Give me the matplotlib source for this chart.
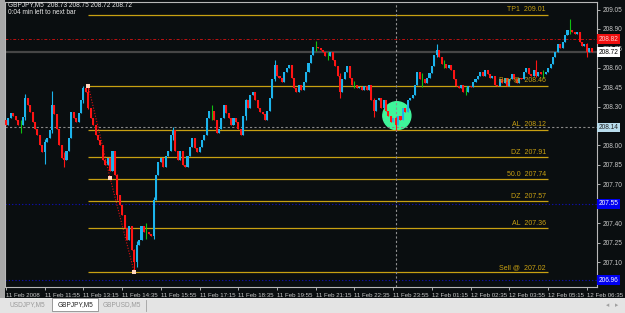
import matplotlib
matplotlib.use("Agg")
import matplotlib.pyplot as plt
from matplotlib.patches import Rectangle, Ellipse
from matplotlib.transforms import blended_transform_factory
import numpy as np

plt.rcParams["font.family"] = ["Liberation Sans", "DejaVu Sans"]

# GBPJPY M5 closes, one per bar, from 11 Feb 2008 10:35
closes = [
    208.16, 208.21, 208.25, 208.23, 208.20, 208.16, 208.16, 208.22, 208.37, 208.31,
    208.26, 208.18, 208.13, 208.08, 208.00, 207.95, 208.03, 208.06, 208.12, 208.31,
    208.24, 208.13, 208.00, 207.90, 207.89, 207.96, 208.06, 208.26, 208.21, 208.18,
    208.25, 208.35, 208.44, 208.41, 208.29, 208.21, 208.16, 208.08, 208.04, 208.00,
    207.89, 207.85, 207.90, 207.80, 207.96, 207.77, 207.62, 207.54, 207.46, 207.36,
    207.27, 207.38, 207.19, 207.10, 207.23, 207.27, 207.38, 207.33, 207.33, 207.32,
    207.30, 207.58, 207.77, 207.87, 207.90, 207.83, 207.92, 207.96, 208.08, 208.12,
    207.96, 207.89, 207.96, 207.85, 207.83, 207.92, 207.99, 208.06, 207.98, 207.95,
    207.99, 208.04, 208.08, 208.21, 208.27, 208.27, 208.20, 208.10, 208.13, 208.21,
    208.31, 208.25, 208.21, 208.16, 208.21, 208.18, 208.13, 208.08, 208.23, 208.35,
    208.29, 208.39, 208.41, 208.35, 208.29, 208.26, 208.24, 208.20, 208.27, 208.37,
    208.51, 208.62, 208.54, 208.52, 208.49, 208.57, 208.60, 208.62, 208.52, 208.44,
    208.41, 208.47, 208.43, 208.49, 208.57, 208.64, 208.70, 208.76, 208.76, 208.75,
    208.74, 208.72, 208.69, 208.69, 208.72, 208.66, 208.61, 208.54, 208.41, 208.51,
    208.57, 208.61, 208.52, 208.47, 208.47, 208.44, 208.45, 208.43, 208.46, 208.43,
    208.47, 208.35, 208.27, 208.35, 208.37, 208.29, 208.35, 208.27, 208.23, 208.18,
    208.21, 208.16, 208.23, 208.20, 208.29, 208.26, 208.35, 208.37, 208.39, 208.47,
    208.57, 208.51, 208.51, 208.48, 208.52, 208.56, 208.61, 208.70, 208.74, 208.68,
    208.63, 208.63, 208.60, 208.62, 208.58, 208.51, 208.46, 208.44, 208.47, 208.41,
    208.41, 208.46, 208.45, 208.49, 208.51, 208.54, 208.57, 208.54, 208.58, 208.55,
    208.52, 208.54, 208.47, 208.46, 208.51, 208.48, 208.52, 208.46, 208.51, 208.55,
    208.51, 208.48, 208.52, 208.51, 208.57, 208.60, 208.55, 208.54, 208.58, 208.54,
    208.57, 208.55, 208.55, 208.57, 208.60, 208.63, 208.68, 208.72, 208.78, 208.75,
    208.80, 208.85, 208.89, 208.89, 208.88, 208.86, 208.88, 208.80, 208.77, 208.78,
    208.72, 208.75, 208.72,
]
first_open = 208.20

# bars with a visible shadow
wick_bars = [6, 8, 16, 19, 24, 32, 34, 46, 53, 54, 58, 61, 69, 85, 99, 111, 128, 133,
             138, 144, 152, 161, 172, 178, 181, 190, 219, 222, 233, 240]
wick_highs = [208.20, 208.40, 208.05, 208.42, 207.95, 208.46, 208.46, 207.78, 207.20, 207.26,
              207.40, 207.60, 208.14, 208.31, 208.36, 208.66, 208.81, 208.72, 208.56, 208.50,
              208.37, 208.22, 208.56, 208.78, 208.66, 208.45, 208.66, 208.58, 208.98, 208.79]
wick_lows = [208.10, 208.20, 207.86, 208.10, 207.83, 208.33, 208.28, 207.58, 207.02, 207.06,
             207.28, 207.28, 208.04, 208.20, 208.20, 208.50, 208.73, 208.66, 208.37, 208.44,
             208.22, 208.12, 208.45, 208.68, 208.60, 208.39, 208.53, 208.52, 208.86, 208.68]

levels = [209.01, 208.46, 208.12, 207.91, 207.74, 207.57, 207.36, 207.02]
level_labels = ["TP1  209.01", "Buy @  208.46", "AL  208.12", "DZ  207.91",
                "50.0  207.74", "DZ  207.57", "AL  207.36", "Sell @  207.02"]
level_start, level_end = 34, 224

zz_bars = [34, 43, 53]
zz_prices = [208.46, 207.75, 207.02]

ask, bid = 208.82, 208.72
grey_line = 208.14
blue_lines = [207.55, 206.96]
vline_bar = 161
circle_bar, circle_price = 161.5, 208.23

price_ticks = [209.05, 208.90, 208.75, 208.60, 208.45, 208.30, 208.15,
               208.00, 207.85, 207.70, 207.55, 207.40, 207.25, 207.10]
# labels hidden under the price boxes are left blank
price_labels = ["209.05", "208.90", "208.75", "208.60", "208.45", "208.30", "",
                "208.00", "207.85", "207.70", "", "207.40", "207.25", "207.10"]
time_bars = list(range(0, 241, 16))
time_labels = ["11 Feb 2008", "11 Feb 11:55", "11 Feb 13:15", "11 Feb 14:35",
               "11 Feb 15:55", "11 Feb 17:15", "11 Feb 18:35", "11 Feb 19:55",
               "11 Feb 21:15", "11 Feb 22:35", "11 Feb 23:55", "12 Feb 01:15",
               "12 Feb 02:35", "12 Feb 03:55", "12 Feb 05:15", "12 Feb 06:35"]

BG = "#0a0e10"
GOLD = "#c8a012"
TXT = "#c8c8c8"
FS = 4.7

W, H = 625, 313
fig = plt.figure(figsize=(W / 100, H / 100), dpi=100, facecolor=BG)
ax = fig.add_axes([5 / W, (H - 287) / H, 592 / W, 285 / H], facecolor=BG)

closes = np.array(closes)
opens = np.concatenate([[first_open], closes[:-1]])
x = np.arange(len(closes))
highs = np.maximum(opens, closes)
lows = np.minimum(opens, closes)
highs[wick_bars] = wick_highs
lows[wick_bars] = wick_lows

up = closes > opens + 0.004
down = closes < opens - 0.004
doji = ~(up | down)

# green highlight behind the candles
ax.add_patch(Ellipse((circle_bar, circle_price), 11.6, 0.216, color="#3ff59a", zorder=1))

for mask, col in [(up, "#1cb4ec"), (down, "#ff1414"), (doji, "#10c010")]:
    ax.vlines(x[mask], lows[mask], highs[mask], color=col, lw=0.8, zorder=3)
    ax.bar(x[mask], np.abs(closes[mask] - opens[mask]), 0.85,
           bottom=np.minimum(opens, closes)[mask], color=col, lw=0, zorder=3)

# fibo / trade levels
for lv, lab in zip(levels, level_labels):
    ax.hlines(lv, level_start, level_end, color=GOLD, lw=0.9, zorder=2)
    ax.text(level_end - 1, lv + 0.012, lab, color=GOLD, fontsize=FS + 0.3,
            ha="right", va="bottom", zorder=4)

ax.plot(zz_bars, zz_prices, color="#e01010", lw=0.8, ls=(0, (1, 1.5)), zorder=4)
ax.scatter(zz_bars, zz_prices, s=5, marker="s", color="#ffd8c0", zorder=5, lw=0)

ax.axhline(ask, color="#c01010", lw=0.7, ls=(0, (3, 2, 1, 2)), zorder=2)
ax.axhline(bid, color="#464646", lw=1.6, zorder=2)
ax.axhline(grey_line, color="#8a8a8a", lw=0.8, ls=(0, (2, 2)), zorder=2)
for b in blue_lines:
    ax.axhline(b, color="#1010c0", lw=0.8, ls=(0, (1, 2)), zorder=2)
ax.axvline(vline_bar, color="#909090", lw=0.8, ls=(0, (2, 2)), zorder=2)

ax.set_xlim(-0.41, 244.2)
ax.set_ylim(209.05 - (287 - 9.5) / 129.5, 209.05 + 7.5 / 129.5)

ax.yaxis.tick_right()
ax.set_yticks(price_ticks)
ax.set_yticklabels(price_labels)
ax.set_xticks(time_bars)
ax.set_xticklabels(time_labels, ha="left")
ax.tick_params(colors=TXT, labelsize=FS, length=2, width=0.6, pad=2)
ax.tick_params(axis="x", labelsize=4.4, pad=2)
for s in ax.spines.values():
    s.set_color("#b8b8b8")
    s.set_linewidth(0.8)

tr = blended_transform_factory(ax.transAxes, ax.transData)
for val, fc, tc in [(ask, "#f01010", "#ffd0d0"), (bid, "#ffffff", "#000000"),
                    (grey_line, "#b8dcec", "#202020"),
                    (blue_lines[0], "#0000f0", "#ffffff"), (blue_lines[1], "#0000f0", "#ffffff")]:
    ax.text(1.003, val, f"{val:.2f}", transform=tr, fontsize=FS, color=tc,
            va="center", ha="left", zorder=6, clip_on=False,
            bbox=dict(boxstyle="square,pad=0.2", fc=fc, ec="none"))

# header lines
fig.text(8 / W, 1 - 5 / H, "GBPJPY,M5  208.73 208.75 208.72 208.72",
         color="#e8e8e8", fontsize=FS, va="center")
fig.text(8 / W, 1 - 13 / H, "0:04 min left to next bar",
         color="#e8e8e8", fontsize=FS, va="center")

# window frame and tab bar
fig.patches.append(Rectangle((0, 0), 5 / W, 1, transform=fig.transFigure,
                             fc="#a8a8a8", ec="none", zorder=0))
fig.patches.append(Rectangle((0, 0), 1, 15 / H, transform=fig.transFigure,
                             fc="#e4e4e4", ec="none", zorder=0))
fig.patches.append(Rectangle((52 / W, 2 / H), 46 / W, 13 / H, transform=fig.transFigure,
                             fc="#ffffff", ec="#8c8c8c", lw=0.6, zorder=1))
fig.lines.append(plt.Line2D([146 / W, 146 / W], [2 / H, 13 / H], transform=fig.transFigure,
                            color="#a0a0a0", lw=0.6))
for tx, lab, col in [(27, "USDJPY,M5", "#9a9a9a"), (75, "GBPJPY,M5", "#202020"),
                     (122, "GBPUSD,M5", "#9a9a9a")]:
    fig.text(tx / W, 8 / H, lab, color=col, fontsize=FS, ha="center", va="center", zorder=2)
fig.text(608 / W, 8 / H, "◂", color="#a0a0a0", fontsize=FS, ha="center", va="center",
         family="DejaVu Sans")
fig.text(617 / W, 8 / H, "▸", color="#a0a0a0", fontsize=FS, ha="center", va="center",
         family="DejaVu Sans")

fig.savefig("out.png", dpi=100, facecolor=BG)
